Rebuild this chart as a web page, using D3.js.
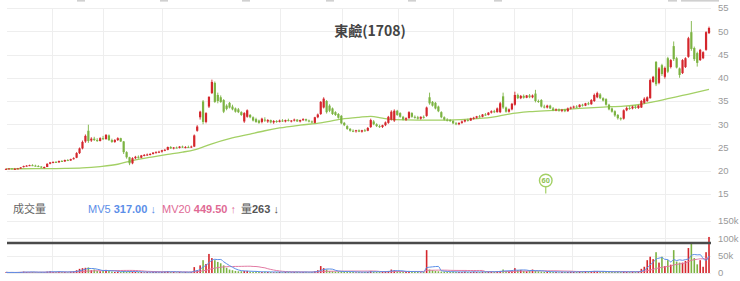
<!DOCTYPE html>
<html><head><meta charset="utf-8">
<script src="https://cdn.jsdelivr.net/npm/d3@7"></script>
<style>
body{margin:0;background:#fff;}
svg{display:block;font-family:"Helvetica Neue",Arial,"Liberation Sans","Noto Sans CJK TC",sans-serif;}
</style>
</head><body><svg id="c" width="740" height="281"></svg>
<script>
// ---------- DATA ----------
const title = "東鹼(1708)";
// [open, high, low, close]
const ohlc = [
[20.4,20.5,20.3,20.4],[20.4,20.5,20.3,20.5],[20.5,20.5,20.3,20.4],[20.4,20.6,20.3,20.4],[20.4,20.6,20.4,20.5],
[20.5,20.8,20.4,20.7],[20.8,21.1,20.7,21.0],[21.0,21.2,20.9,21.1],[21.1,21.3,21.0,21.2],[21.2,21.4,21.0,21.1],
[21.1,21.3,20.9,21.0],[21.0,21.2,20.8,20.9],[20.9,21.0,20.6,20.7],[20.7,20.9,20.5,20.8],[20.8,21.6,20.8,21.5],
[21.5,21.9,21.4,21.8],[21.8,22.0,21.6,21.9],[21.9,22.1,21.7,21.8],[21.8,22.2,21.7,22.1],[22.1,22.3,21.9,22.0],
[22.0,22.4,21.9,22.3],[22.3,22.5,22.1,22.2],[22.2,22.6,22.1,22.5],[22.5,22.9,22.4,22.7],[22.8,24.0,22.7,23.8],
[23.8,25.0,23.6,24.8],[24.8,26.5,24.6,26.2],[26.3,27.8,26.0,27.5],[28.6,29.9,26.0,26.4],[26.5,27.2,26.2,26.9],
[26.9,27.3,26.4,26.6],[26.6,27.0,26.2,26.4],[26.4,27.2,26.3,27.0],[27.0,27.5,26.6,26.8],[26.8,27.9,26.7,27.7],
[27.6,27.8,26.4,26.6],[26.6,26.9,26.0,26.2],[26.2,26.8,26.0,26.6],[26.6,27.2,26.4,27.0],[27.0,27.1,26.2,26.3],
[26.3,26.4,23.6,24.0],[24.0,24.2,22.6,22.9],[22.9,23.0,21.2,21.6],[21.6,22.9,21.4,22.7],[22.7,23.2,22.5,23.0],
[23.0,23.3,22.6,22.8],[22.8,23.4,22.7,23.3],[23.3,23.6,23.1,23.4],[23.4,23.7,23.2,23.5],[23.5,23.8,23.3,23.6],
[23.6,24.0,23.5,23.9],[23.9,24.2,23.7,24.0],[24.0,24.3,23.8,24.1],[24.1,24.5,23.9,24.4],[24.4,24.7,24.2,24.5],
[24.5,25.2,24.4,25.1],[25.1,25.3,24.7,24.8],[24.8,25.1,24.6,25.0],[25.0,25.2,24.8,24.9],[24.9,25.3,24.8,25.2],
[25.2,25.4,24.9,25.0],[25.0,25.3,24.8,25.1],[25.1,25.4,24.9,25.0],[25.0,25.4,24.9,25.2],[25.2,27.8,25.1,27.6],
[28.6,29.8,28.4,29.5],[31.5,32.9,31.0,32.7],[34.9,35.2,30.0,30.5],[30.5,32.6,30.2,32.4],[33.8,36.0,33.5,35.9],
[36.7,39.6,36.5,39.1],[38.9,39.2,34.6,34.8],[36.3,36.8,34.5,35.0],[35.8,36.2,34.6,34.8],[35.2,35.4,32.4,32.7],
[34.0,34.3,33.0,33.3],[34.6,34.8,33.4,33.6],[33.8,34.2,33.0,33.2],[33.4,33.6,32.5,32.7],[33.2,33.5,32.4,32.6],
[32.6,32.8,31.8,32.0],[30.6,32.6,30.3,32.4],[31.6,33.2,31.4,33.0],[32.0,32.2,31.3,31.5],[31.5,31.7,30.6,30.8],
[31.1,31.4,30.3,30.5],[30.8,31.0,30.1,30.3],[30.5,31.4,30.2,31.2],[31.0,31.5,30.5,30.8],[30.6,31.1,30.3,30.9],
[30.9,31.0,30.2,30.4],[30.4,30.9,30.1,30.7],[30.7,30.9,30.3,30.5],[30.5,31.0,30.4,30.8],[30.8,31.1,30.5,30.6],
[30.6,31.0,30.4,30.9],[30.9,31.2,30.6,30.7],[30.7,30.9,30.4,30.8],[30.8,31.2,30.6,31.0],[31.0,31.1,30.5,30.6],
[30.6,31.0,30.4,30.9],[30.9,31.3,30.7,31.1],[31.1,31.2,30.6,30.8],[30.8,31.0,30.4,30.6],[30.6,30.8,30.2,30.4],
[30.3,31.6,30.2,31.5],[31.5,32.3,31.3,32.1],[32.2,35.0,32.0,34.8],[33.6,35.8,33.4,35.5],[35.0,35.2,32.3,32.6],
[34.0,34.3,32.6,32.9],[33.4,33.6,32.0,32.2],[32.6,32.8,31.8,32.0],[32.2,32.4,31.2,31.4],[31.8,32.0,30.0,30.2],
[30.3,30.5,29.6,29.8],[29.6,29.8,28.8,29.0],[29.0,29.2,28.4,28.6],[28.6,28.9,28.3,28.5],[28.5,28.8,28.2,28.7],
[28.7,28.9,28.3,28.4],[28.4,28.8,28.2,28.7],[28.7,29.0,28.4,28.6],[28.6,29.4,28.5,29.2],[29.4,31.2,29.2,30.9],
[30.6,30.9,29.8,30.0],[30.0,30.2,29.4,29.6],[29.6,29.9,29.2,29.4],[29.4,29.9,29.2,29.8],[29.8,30.6,29.6,30.4],
[30.3,31.8,30.1,31.6],[31.0,33.0,30.8,32.7],[30.8,33.2,30.5,32.9],[32.9,33.1,31.8,32.0],[32.4,32.6,31.4,31.6],
[31.6,31.8,30.8,31.0],[31.0,31.5,30.7,31.3],[31.3,32.8,31.2,32.6],[32.4,32.6,31.4,31.6],[31.6,31.9,31.2,31.5],
[31.5,31.8,31.0,31.2],[31.2,31.7,31.0,31.6],[31.6,31.9,31.2,31.4],[31.8,33.8,31.6,33.6],[35.8,36.8,34.2,34.5],
[34.8,35.0,33.8,34.0],[34.6,34.8,33.2,33.4],[33.8,34.0,32.6,32.8],[32.6,32.8,31.3,31.5],[31.5,31.7,30.8,31.0],
[31.0,31.3,30.6,30.9],[30.9,31.1,30.5,30.7],[30.7,30.9,30.0,30.2],[30.2,30.5,29.8,30.0],[30.0,30.4,29.8,30.3],
[30.3,30.8,30.1,30.6],[30.6,31.0,30.4,30.9],[30.9,31.2,30.6,30.8],[30.8,31.4,30.7,31.3],[31.3,31.6,31.0,31.4],
[31.4,31.8,31.2,31.7],[31.7,32.0,31.4,31.6],[31.6,32.2,31.5,32.1],[32.1,32.4,31.8,32.0],[32.0,32.6,31.9,32.5],
[32.5,33.0,32.3,32.8],[32.8,33.1,32.4,32.6],[32.6,33.6,32.5,33.4],[32.6,34.8,32.4,34.5],[36.0,36.8,33.3,33.6],
[33.6,33.8,32.5,32.7],[32.7,33.4,32.5,33.2],[33.2,34.6,33.0,34.4],[34.2,37.0,34.0,36.3],[36.3,36.6,35.4,35.6],
[35.6,36.3,35.4,36.1],[36.1,36.4,35.5,35.7],[35.7,36.3,35.6,36.2],[36.2,36.5,35.6,35.8],[35.8,36.4,35.6,36.2],
[36.6,37.4,34.7,35.0],[35.0,35.3,34.6,34.8],[35.2,35.4,33.6,33.8],[33.8,34.2,33.4,33.6],[33.6,34.2,33.4,34.0],
[34.0,34.2,33.3,33.4],[33.4,33.7,32.8,33.0],[33.0,33.4,32.8,33.2],[33.2,33.4,32.7,32.9],[32.9,33.3,32.6,33.1],
[33.1,33.3,32.6,32.8],[32.8,33.6,32.7,33.4],[33.4,33.8,33.2,33.6],[33.6,34.0,33.4,33.8],[33.8,34.1,33.5,33.7],
[33.7,34.3,33.6,34.2],[34.2,34.4,33.8,34.0],[34.0,34.6,33.9,34.5],[34.5,34.8,34.1,34.3],[34.3,35.4,34.2,35.2],
[35.0,36.6,34.8,36.3],[35.8,37.0,35.6,36.7],[36.4,36.7,35.4,35.6],[35.6,35.8,34.9,35.1],[35.4,35.6,34.0,34.2],
[34.2,34.4,33.0,33.2],[33.4,33.6,32.5,32.7],[32.8,33.0,31.6,31.9],[32.0,32.2,31.0,31.3],[31.3,31.5,30.8,31.1],
[31.2,33.2,31.0,33.0],[33.0,33.8,32.8,33.5],[33.5,33.9,33.1,33.4],[33.4,34.0,33.2,33.8],[33.8,34.1,33.3,33.5],
[33.5,34.2,33.3,34.0],[33.6,35.2,33.5,35.0],[34.6,35.8,34.4,35.5],[35.0,36.0,34.8,35.8],[35.6,39.8,35.5,39.5],
[39.1,40.4,38.9,40.2],[43.4,43.6,38.2,38.6],[38.9,42.3,38.6,42.0],[42.7,43.0,40.4,40.8],[40.2,42.4,39.8,42.1],
[44.2,44.5,41.0,41.3],[42.3,44.0,42.0,43.8],[46.8,47.8,43.6,44.0],[44.2,44.5,42.0,42.2],[42.0,42.2,40.0,40.6],
[41.0,44.0,40.8,43.8],[42.3,44.4,42.1,44.2],[44.5,48.8,44.3,48.5],[49.8,52.2,45.8,46.2],[46.4,46.7,43.6,44.0],
[45.3,45.6,42.4,43.2],[43.8,46.2,43.6,46.0],[44.2,45.7,44.0,45.5],[46.0,50.0,45.8,49.8],[49.6,51.0,49.4,50.7]
];
// volume, thousands
const volume = [
2,1,2,1,2,3,4,3,2,3,2,2,3,2,4,5,3,3,4,3,3,2,4,5,
8,12,14,15,16,8,10,6,5,7,9,6,4,3,4,
3,6,4,5,4,3,3,3,2,3,2,3,3,2,3,4,5,3,3,2,3,2,3,2,3,
17,8,22,37,26,55,43,37,32,28,22,15,10,8,6,5,5,6,6,
4,3,4,3,3,4,3,3,2,3,3,2,3,3,2,3,3,2,3,3,2,3,
5,8,20,14,10,6,5,4,4,5,4,4,3,3,2,3,2,3,3,
6,4,3,3,4,5,6,10,8,5,4,3,4,6,4,3,3,2,3,
66,10,8,6,5,4,4,3,3,4,3,3,3,4,3,3,4,3,3,4,3,4,4,3,5,6,
10,6,5,7,14,8,9,6,5,7,10,6,5,4,3,4,4,
3,3,2,3,3,3,4,3,3,4,4,5,4,5,6,5,4,4,3,4,3,3,4,3,4,3,3,4,3,4,
12,18,37,47,40,60,30,47,20,37,24,66,33,30,30,35,72,87,43,25,37,18,60,104
];
// MA60: [day index, value]
const ma60 = [
[0,20.4],[10,20.45],[20,20.5],[26,20.6],[32,20.9],[38,21.4],[43,22.2],[50,23.0],[55,23.5],[60,24.0],
[64,24.5],[70,25.8],[76,26.9],[83,27.9],[88,28.6],[93,29.2],[100,29.8],[107,30.3],[114,31.1],[120,31.5],
[124,31.7],[128,31.3],[132,31.0],[140,30.9],[150,30.9],[160,31.2],[166,31.6],[171,32.2],[178,32.7],[186,33.0],
[195,33.4],[203,33.7],[210,33.9],[216,34.3],[220,34.8],[225,35.5],[230,36.2],[235,36.9],[239,37.5]
];
const priceTicks = [15,20,25,30,35,40,45,50,55];
const volTicks = [0,50,100,150];
const volTickLabels = ["0","50k","100k","150k"];
const monthGridIdx = [15.6,33,53,93.2,114.3,133.3,152,172.8,192.5,224.1];
const volMarkLevel = 86.5;
const ma60MarkIdx = 183.5;
const legend = {vol:"成交量", mv5:"MV5 317.00", mv20:"MV20 449.50", q:"263"};

// ---------- DRAW ----------
const N = ohlc.length;
const svg = d3.select("#c");
const x = d3.scaleLinear().domain([0, N-1]).range([6, 709]);
const yP = d3.scaleLinear().domain([15,55]).range([194, 8]);
const yV = d3.scaleLinear().domain([0,150]).range([273, 221]);
const RED = "#d4262c", GREEN = "#7cb342", MAC = "#a3d065";
const gl = 7, gr = 711;

// top cut-off strip (only the bottom edges of the toolbar show)
const topMarks = [[77,8],[160,8],[242,8],[326,8],[408,8],[494,8],[668,9],[681,38]];
svg.append("g").selectAll("rect").data(topMarks).join("rect")
  .attr("x", d=>d[0]).attr("y",0).attr("width",d=>d[1]).attr("height",1.6).attr("fill","#d0d0d0");

// grids
const grid = svg.append("g").attr("stroke","#eeeeee").attr("stroke-width",1);
grid.selectAll(".h").data(priceTicks).join("line")
  .attr("x1",gl).attr("x2",gr).attr("y1",d=>Math.round(yP(d))+0.5).attr("y2",d=>Math.round(yP(d))+0.5);
grid.selectAll(".hv").data(volTicks).join("line")
  .attr("x1",gl).attr("x2",gr).attr("y1",d=>Math.round(yV(d))+0.5).attr("y2",d=>Math.round(yV(d))+0.5);
grid.selectAll(".v").data(monthGridIdx).join("line")
  .attr("x1",d=>Math.round(x(d))+0.5).attr("x2",d=>Math.round(x(d))+0.5).attr("y1",yP(55)).attr("y2",yV(0));

// axis labels
const axg = svg.append("g").attr("font-size",9.5).attr("fill","#9a9a9a");
axg.selectAll(".pl").data(priceTicks).join("text")
  .attr("x",718).attr("y",d=>yP(d)).attr("dy","0.35em").text(d=>d);
axg.selectAll(".vl").data(volTicks).join("text")
  .attr("x",718).attr("y",d=>yV(d)).attr("dy","0.35em").text((d,i)=>volTickLabels[i]);

// title
svg.append("text").attr("x",370).attr("y",36).attr("text-anchor","middle")
  .attr("font-size",14).attr("font-weight",600).attr("fill","#444")
  .style("font-family","'Noto Sans CJK TC',sans-serif").text(title);

// MA60
svg.append("path").datum(ma60)
  .attr("d", d3.line().x(d=>x(d[0])).y(d=>yP(d[1])).curve(d3.curveMonotoneX))
  .attr("fill","none").attr("stroke",MAC).attr("stroke-width",1.3);

// candles
const cg = svg.append("g");
const col = d => d[3] >= d[0] ? RED : GREEN;
cg.selectAll(".w").data(ohlc).join("line")
  .attr("x1",(d,i)=>x(i)).attr("x2",(d,i)=>x(i))
  .attr("y1",d=>yP(d[1])).attr("y2",d=>yP(d[2]))
  .attr("stroke",col).attr("stroke-width",0.9);
cg.selectAll(".b").data(ohlc).join("rect")
  .attr("x",(d,i)=>x(i)-1.1).attr("width",2.2)
  .attr("y",d=>yP(Math.max(d[0],d[3])))
  .attr("height",d=>Math.max(1, Math.abs(yP(d[0])-yP(d[3]))))
  .attr("fill",col);

// MA60 marker
const mk = svg.append("g");
const mx = x(ma60MarkIdx);
mk.append("line").attr("x1",mx).attr("x2",mx).attr("y1",187).attr("y2",193.5).attr("stroke",MAC).attr("stroke-width",1.2);
mk.append("circle").attr("cx",mx).attr("cy",180.5).attr("r",6.3).attr("fill","#fff").attr("stroke",MAC).attr("stroke-width",1.4);
mk.append("text").attr("x",mx).attr("y",180.5).attr("dy","0.35em").attr("text-anchor","middle")
  .attr("font-size",7.5).attr("font-weight",700).attr("fill","#8cbf4f").text("60");

// volume legend
const lg = svg.append("g").attr("font-size",11).style("font-family","'Helvetica Neue',Arial,'Noto Sans CJK TC',sans-serif");
lg.append("text").attr("x",13).attr("y",213).attr("fill","#666").text(legend.vol);
const t1 = lg.append("text").attr("x",88).attr("y",213).attr("fill","#5b8ee8");
t1.append("tspan").text("MV5 "); t1.append("tspan").attr("font-weight",600).text(legend.mv5.split(" ")[1]+" ↓");
const t2 = lg.append("text").attr("x",162).attr("y",213).attr("fill","#e06a95");
t2.append("tspan").text("MV20 "); t2.append("tspan").attr("font-weight",600).text(legend.mv20.split(" ")[1]+" ↑");
const t3 = lg.append("text").attr("x",241).attr("y",213).attr("fill","#555");
t3.append("tspan").text("量"); t3.append("tspan").attr("font-weight",700).text(legend.q+" ↓");

// volume bars
svg.append("g").selectAll("rect").data(volume).join("rect")
  .attr("x",(d,i)=>x(i)-0.8).attr("width",1.6)
  .attr("y",d=>yV(d)).attr("height",d=>yV(0)-yV(d))
  .attr("fill",(d,i)=>col(ohlc[i]));

// MV5 / MV20 (moving averages of volume)
function movAvg(arr, n){ return arr.map((v,i)=>{const s=arr.slice(Math.max(0,i-n+1),i+1); return d3.mean(s);}); }
const mv5 = movAvg(volume,5), mv20 = movAvg(volume,20);
const vl = d3.line().x((d,i)=>x(i)).y(d=>yV(d)).curve(d3.curveMonotoneX);
svg.append("path").datum(mv20).attr("d",vl).attr("fill","none").attr("stroke","#e27aa3").attr("stroke-width",1);
svg.append("path").datum(mv5).attr("d",vl).attr("fill","none").attr("stroke","#5b8ee8").attr("stroke-width",1);

// heavy marker line in volume panel
svg.append("line").attr("x1",gl).attr("x2",gr).attr("y1",yV(volMarkLevel)).attr("y2",yV(volMarkLevel))
  .attr("stroke","#4a4a4a").attr("stroke-width",2.5);
</script></body></html>
